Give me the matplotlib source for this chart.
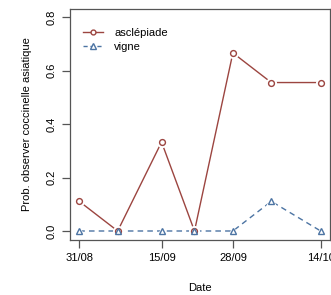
import matplotlib
matplotlib.use("Agg")
import matplotlib.pyplot as plt
import numpy as np
import datetime as dt

# dates d'observation
dates = ["2015-08-31", "2015-09-07", "2015-09-15", "2015-09-21",
         "2015-09-28", "2015-10-05", "2015-10-14"]
asclepiade = [0.111, 0.0, 0.333, 0.0, 0.667, 0.556, 0.556]
vigne = [0.0, 0.0, 0.0, 0.0, 0.0, 0.111, 0.0]

tick_dates = ["2015-08-31", "2015-09-15", "2015-09-28", "2015-10-14"]
tick_labels = ["31/08", "15/09", "28/09", "14/10"]
y_ticks = [0.0, 0.2, 0.4, 0.6, 0.8]

col_a = "#9c4540"
col_v = "#4c74a3"

plt.rcParams['font.family'] = ['Liberation Sans', 'DejaVu Sans']
plt.rcParams['font.size'] = 8

x = [dt.datetime.strptime(d, "%Y-%m-%d") for d in dates]
xt = [dt.datetime.strptime(d, "%Y-%m-%d") for d in tick_dates]

fig = plt.figure(figsize=(3.31, 2.95), dpi=100)
ax = fig.add_axes([0.2103, 0.188, 0.7877, 0.782])

# lignes type="b" : un trou autour des points
ax.plot(x, asclepiade, color=col_a, lw=1.0, zorder=2)
ax.plot(x, vigne, color=col_v, lw=1.0, ls=(0, (4, 3)), zorder=2)
ax.plot(x, asclepiade, ls="none", marker="o", ms=8, mfc="white", mec="none", zorder=3)
ax.plot(x, vigne, ls="none", marker="^", ms=9, mfc="white", mec="none", zorder=3)
ax.plot(x, asclepiade, ls="none", marker="o", ms=4.2, mfc="white", mec=col_a, mew=1.0, zorder=4)
ax.plot(x, vigne, ls="none", marker="^", ms=4.6, mfc="white", mec=col_v, mew=1.0, zorder=4)

# légende
ax.plot([], [], color=col_a, lw=1.0, marker="o", ms=3.5, mfc="white", mec=col_a, label="asclépiade")
ax.plot([], [], color=col_v, lw=1.0, ls=(0, (3, 2)), marker="^", ms=3.8, mfc="white", mec=col_v, label="vigne")
h, l = ax.get_legend_handles_labels()
ax.legend(h[-2:], l[-2:], loc="upper left", frameon=False, bbox_to_anchor=(0.012, 0.961),
          handlelength=1.85, handletextpad=1.0, labelspacing=0.35, fontsize=8)

x0 = x[0] - dt.timedelta(days=1.76)
x1 = x[-1] + dt.timedelta(days=1.76)
ax.set_xlim(x0, x1)
ax.set_ylim(-0.032, 0.832)

ax.set_xticks(xt)
ax.set_xticklabels(tick_labels)
ax.set_yticks(y_ticks)
ax.set_yticklabels(["%.1f" % v for v in y_ticks], rotation=90, va="center")

for s in ax.spines.values():
    s.set_color("#555555")
    s.set_linewidth(0.9)
ax.tick_params(direction="out", length=6, width=0.9, color="#555555", pad=4)
ax.tick_params(axis="y", pad=3)

ax.set_xlabel("Date", labelpad=14)
ax.set_ylabel("Prob. observer coccinelle asiatique", labelpad=11)

fig.savefig("out.png", dpi=100)
